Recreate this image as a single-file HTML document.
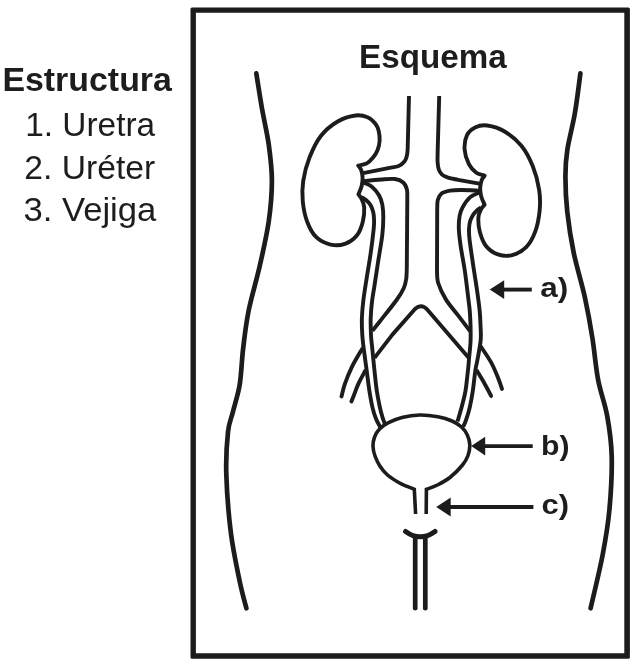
<!DOCTYPE html>
<html><head><meta charset="utf-8"><title>Esquema</title>
<style>
html,body{margin:0;padding:0;background:#fff;}
body{width:641px;height:671px;overflow:hidden;font-family:"Liberation Sans",sans-serif;}
svg{display:block;}
svg text{font-family:"Liberation Sans",sans-serif;fill:#1d1d1d;}
</style></head><body>
<svg width="641" height="671" viewBox="0 0 641 671">
<rect x="0" y="0" width="641" height="671" fill="#ffffff"/>
<path fill-rule="evenodd" fill="#1c1c1c" d="M192,7.6 H628.4 Q629.9,7.6 629.9,9.1 V657.2 Q629.9,658.7 628.4,658.7 H192 Q190.5,658.7 190.5,657.2 V9.1 Q190.5,7.6 192,7.6 Z M195.9,12.8 V653.3 H624.3 V12.8 Z"/>
<g fill="none" stroke="#1c1c1c" stroke-linejoin="round">
<path d="M256.3,73.4 C257.3,79.4 260.0,97.3 262.1,109.2 C264.2,121.1 267.2,133.0 268.8,144.9 C270.4,156.8 271.9,168.0 271.9,180.7 C271.9,193.4 270.8,206.8 268.8,221.0 C266.8,235.2 263.2,250.8 259.8,265.7 C256.4,280.6 251.5,296.7 248.7,310.4 C245.9,324.1 244.7,335.6 243.2,348.0 C241.7,360.4 241.4,374.1 239.7,384.7 C238.0,395.3 234.9,403.6 233.0,411.5 C231.1,419.4 229.1,421.6 228.0,432.0 C226.9,442.4 225.8,457.4 226.3,474.1 C226.8,490.8 228.6,514.4 230.8,532.3 C233.0,550.2 237.1,568.7 239.7,581.4 C242.3,594.1 245.3,603.8 246.4,608.3" stroke-width="4.7" stroke-linecap="round"/>
<path d="M580.4,73.4 C579.5,80.1 577.0,101.0 574.8,113.7 C572.6,126.4 569.0,139.0 567.4,149.4 C565.8,159.8 565.4,165.8 565.4,176.2 C565.4,186.6 565.9,199.3 567.3,212.0 C568.7,224.7 570.7,238.1 573.6,252.3 C576.5,266.5 581.7,282.7 584.8,297.0 C587.9,311.3 590.2,324.1 592.4,338.0 C594.6,351.9 595.7,367.2 598.2,380.2 C600.7,393.2 605.0,403.3 607.2,416.0 C609.5,428.7 611.3,440.6 611.7,456.2 C612.1,471.8 610.9,493.5 609.4,509.9 C607.9,526.3 605.8,538.2 602.7,554.6 C599.6,571.0 592.6,599.3 590.6,608.3" stroke-width="4.7" stroke-linecap="round"/>
<path d="M358.2,165.6 C359.6,165.3 363.9,164.9 366.4,163.6 C368.9,162.2 371.2,159.8 373.1,157.5 C375.0,155.2 376.5,152.8 377.6,150.0 C378.7,147.2 379.4,144.2 379.6,141.0 C379.8,137.8 379.3,133.4 378.6,130.5 C377.9,127.6 377.0,125.7 375.2,123.5 C373.4,121.3 370.9,118.5 367.6,117.2 C364.3,115.9 360.6,114.8 355.6,115.5 C350.6,116.2 343.5,118.1 337.7,121.5 C331.9,124.9 325.7,129.8 321.0,135.8 C316.3,141.8 312.6,149.8 309.6,157.3 C306.6,164.9 304.3,173.7 303.2,181.1 C302.1,188.5 302.1,194.8 302.8,201.6 C303.5,208.4 304.9,215.8 307.2,221.7 C309.4,227.6 312.4,233.4 316.3,237.2 C320.2,241.0 325.8,243.5 330.6,244.6 C335.4,245.7 340.5,245.4 344.9,243.9 C349.3,242.4 353.8,239.3 356.8,235.6 C359.8,231.9 361.6,226.4 362.8,221.7 C364.0,217.0 364.4,211.2 364.2,207.4 C364.0,203.6 362.6,201.2 361.6,199.0 C360.6,196.8 358.9,195.1 358.4,194.3 C358.9,193.0 360.9,189.0 361.6,186.2 C362.3,183.4 362.7,180.2 362.6,177.5 C362.5,174.8 361.9,172.0 361.2,170.0 C360.5,168.0 358.7,166.3 358.2,165.6Z" stroke-width="3.9" stroke-linecap="round"/>
<path d="M484.6,175.6 C483.2,175.1 478.9,174.6 476.3,172.7 C473.7,170.8 470.8,168.1 468.9,164.2 C466.9,160.3 464.9,154.2 464.6,149.4 C464.3,144.6 465.2,138.8 467.0,135.1 C468.8,131.4 472.2,128.8 475.6,127.2 C479.0,125.6 482.4,124.8 487.2,125.5 C492.0,126.2 498.9,128.1 504.6,131.5 C510.3,134.9 516.7,140.0 521.4,145.8 C526.1,151.6 529.8,158.9 532.8,166.3 C535.8,173.7 538.1,182.7 539.2,190.1 C540.3,197.5 540.3,204.1 539.6,211.0 C538.9,217.9 537.4,225.7 535.2,231.7 C533.0,237.7 530.0,243.3 526.2,247.2 C522.4,251.1 516.9,253.9 512.2,255.1 C507.5,256.3 502.3,255.9 497.9,254.4 C493.5,252.9 489.0,249.8 486.0,246.0 C483.0,242.2 481.1,236.5 479.8,231.7 C478.5,226.9 478.2,221.2 478.4,217.4 C478.6,213.6 480.2,211.1 481.2,209.0 C482.2,206.9 484.0,205.4 484.6,204.7 C484.0,203.3 481.9,199.2 481.2,196.4 C480.5,193.6 480.1,190.3 480.2,187.6 C480.3,184.9 481.0,182.2 481.7,180.2 C482.4,178.2 484.1,176.4 484.6,175.6Z" stroke-width="3.9" stroke-linecap="round"/>
<path d="M409,96 L407.9,140 C407.8,141.7 407.8,147.3 407.6,150.0 C407.4,152.7 407.3,154.1 406.8,156.0 C406.3,157.9 405.8,159.9 404.4,161.6 C403.0,163.3 401.5,164.9 398.6,166.0 C395.7,167.1 392.9,167.2 387.0,168.4 C381.1,169.6 367.1,172.3 363.1,173.1" stroke-width="3.9" stroke-linecap="butt"/>
<path d="M363.1,181.2 C366.1,180.9 375.9,179.9 381.2,179.5 C386.5,179.1 391.2,178.5 394.9,179.0 C398.6,179.5 401.2,180.7 403.2,182.4 C405.2,184.1 406.2,186.5 406.9,189.4 C407.6,192.3 407.2,198.2 407.3,200.0 L406.8,268 C406.7,269.8 406.7,275.6 406.2,279.0 C405.7,282.4 405.2,285.0 403.6,288.5 C402.0,292.0 400.5,294.6 396.6,300.0 C392.7,305.4 384.0,316.1 380.0,321.2 C376.0,326.3 373.7,329.2 372.4,330.8" stroke-width="3.9" stroke-linecap="butt"/>
<path d="M362.0,349.1 C360.3,352.1 354.7,361.2 351.8,367.1 C348.9,373.0 346.5,379.3 344.8,384.2 C343.1,389.1 342.1,394.4 341.5,396.5" stroke-width="3.9" stroke-linecap="round"/>
<path d="M365.1,371.0 C364.1,372.9 360.8,378.7 358.9,382.7 C357.0,386.7 355.2,391.9 354.0,395.0 C352.8,398.1 351.8,400.4 351.4,401.5" stroke-width="3.9" stroke-linecap="round"/>
<path d="M439.2,96 L437.7,150 C437.7,152.0 437.4,158.8 437.6,162.0 C437.8,165.2 438.1,167.4 438.8,169.5 C439.5,171.6 440.5,173.2 442.0,174.6 C443.5,175.9 445.3,176.7 448.0,177.6 C450.7,178.5 452.8,178.8 458.0,179.8 C463.2,180.8 475.8,183.0 479.3,183.7" stroke-width="3.9" stroke-linecap="butt"/>
<path d="M479.3,190.6 C476.2,190.5 465.9,190.0 461.0,190.0 C456.1,190.0 453.2,190.0 450.0,190.6 C446.8,191.2 443.6,192.0 441.6,193.6 C439.6,195.2 438.5,197.3 437.8,200.0 C437.1,202.7 437.3,208.3 437.2,210.0 L437,270 C437.2,272.2 436.7,278.1 438.2,283.0 C439.7,287.9 442.4,293.8 446.0,299.6 C449.6,305.4 456.0,312.5 460.0,317.8 C464.0,323.1 468.5,329.1 470.2,331.4" stroke-width="3.9" stroke-linecap="butt"/>
<path d="M481.0,346.8 C482.7,349.4 488.2,357.2 491.1,362.4 C494.0,367.6 496.3,373.6 498.1,378.0 C499.9,382.4 501.4,387.1 502.0,388.9" stroke-width="3.9" stroke-linecap="round"/>
<path d="M477.1,371.0 C478.4,373.2 482.6,380.1 484.9,384.2 C487.2,388.3 490.1,393.9 491.1,395.9" stroke-width="3.9" stroke-linecap="round"/>
<path d="M374.5,357.9 L392.4,334.6 L415.0,309.0 Q421.2,303.2 427.2,309.4 L469.3,358.5" stroke-width="3.9" stroke-linecap="butt"/>
<path d="M361.5,197.0 C362.2,197.5 364.5,198.7 366.0,200.0 C367.5,201.3 369.3,203.0 370.5,205.0 C371.7,207.0 372.6,209.7 373.2,212.0 C373.8,214.3 373.9,216.2 374.0,219.0 C374.1,221.8 374.3,222.9 373.7,228.7 C373.1,234.5 371.8,245.4 370.6,253.7 C369.4,262.0 367.8,270.9 366.6,278.6 C365.4,286.3 364.2,293.4 363.4,300.0 C362.6,306.6 362.1,312.2 361.9,318.0 C361.7,323.8 362.0,330.2 362.3,335.0 C362.6,339.8 362.8,341.0 363.5,346.8 C364.2,352.6 365.6,362.6 366.6,370.0 C367.6,377.4 368.4,384.6 369.4,390.9 C370.4,397.2 371.4,402.9 372.5,407.6 C373.6,412.3 374.8,415.7 376.1,419.0 C377.4,422.3 379.6,425.8 380.3,427.2" stroke-width="3.9" stroke-linecap="butt"/>
<path d="M363.1,182.5 C364.5,183.2 369.0,184.3 371.6,186.4 C374.2,188.5 377.2,192.2 379.0,195.3 C380.8,198.4 381.7,201.2 382.4,205.0 C383.1,208.8 383.3,212.8 383.3,217.8 C383.3,222.8 383.1,228.0 382.3,235.0 C381.5,242.0 379.7,251.6 378.4,259.9 C377.1,268.2 375.6,278.2 374.6,284.9 C373.6,291.6 372.9,294.5 372.2,300.0 C371.5,305.5 370.9,312.2 370.7,318.0 C370.5,323.8 370.8,330.2 371.0,335.0 C371.2,339.8 371.5,341.0 372.1,346.8 C372.7,352.6 373.6,362.6 374.4,370.0 C375.2,377.4 375.9,384.8 376.8,390.9 C377.7,397.0 378.8,402.1 379.7,406.5 C380.6,410.9 381.5,414.1 382.4,417.0 C383.2,419.9 384.4,422.5 384.8,423.6" stroke-width="3.9" stroke-linecap="butt"/>
<path d="M481.0,207.5 C480.3,208.0 478.3,209.2 477.0,210.5 C475.7,211.8 474.1,213.2 473.0,215.0 C471.9,216.8 470.9,218.7 470.2,221.0 C469.5,223.3 469.1,225.8 469.0,229.0 C468.9,232.2 468.9,234.2 469.6,240.0 C470.3,245.8 471.8,255.7 473.0,264.0 C474.2,272.3 475.9,282.3 477.0,290.0 C478.1,297.7 479.0,304.2 479.6,310.0 C480.2,315.8 480.3,320.0 480.5,325.0 C480.7,330.0 481.2,334.2 480.7,340.0 C480.2,345.8 478.3,355.0 477.4,360.0 C476.5,365.0 476.2,364.9 475.4,370.0 C474.6,375.1 473.8,384.6 472.8,390.9 C471.9,397.2 470.8,402.7 469.7,407.6 C468.6,412.5 467.1,416.9 466.0,420.1 C464.9,423.3 463.7,425.7 463.2,426.8" stroke-width="3.9" stroke-linecap="butt"/>
<path d="M479.3,192.5 C477.7,193.3 472.7,194.9 469.9,197.4 C467.1,199.9 464.3,204.3 462.6,207.4 C460.9,210.5 460.2,212.6 459.6,216.0 C459.0,219.4 458.7,223.2 458.8,228.0 C458.9,232.8 459.5,237.7 460.5,245.0 C461.5,252.3 463.7,262.8 465.0,272.0 C466.3,281.2 467.6,292.7 468.5,300.0 C469.4,307.3 469.8,308.9 470.1,315.6 C470.5,322.3 470.8,332.6 470.6,340.0 C470.4,347.4 469.3,355.0 468.9,360.0 C468.5,365.0 468.6,364.9 468.0,370.0 C467.4,375.1 466.5,384.8 465.5,390.9 C464.5,397.0 463.1,401.4 461.8,406.5 C460.5,411.6 458.2,419.0 457.5,421.5" stroke-width="3.9" stroke-linecap="butt"/>
<path d="M415.6,514 L414.3,489.3 C413.1,488.8 409.6,487.5 407.0,486.4 C404.4,485.3 401.9,484.4 398.7,482.5 C395.4,480.6 390.6,477.7 387.5,475.0 C384.4,472.3 382.1,469.4 380.0,466.2 C377.9,463.0 376.2,459.3 375.0,456.0 C373.8,452.7 373.1,449.4 373.0,446.2 C372.9,443.0 373.5,439.9 374.6,437.0 C375.7,434.1 377.2,431.4 379.5,429.0 C381.8,426.6 384.8,424.5 388.5,422.6 C392.2,420.7 396.8,418.7 402.0,417.4 C407.2,416.1 413.9,415.1 419.9,415.0 C425.9,414.9 432.6,415.8 438.0,416.8 C443.4,417.8 448.1,419.3 452.0,421.0 C455.9,422.7 458.9,424.7 461.5,427.0 C464.1,429.3 465.9,432.0 467.3,435.0 C468.7,438.0 469.7,441.5 469.8,444.9 C469.9,448.3 469.2,452.1 468.0,455.5 C466.8,458.9 465.5,461.3 462.5,465.0 C459.5,468.7 454.1,474.2 449.9,477.5 C445.7,480.8 441.3,483.0 437.4,485.0 C433.5,487.0 428.2,488.6 426.4,489.3 L426.2,514" stroke-width="3.6" stroke-linecap="butt" stroke-linejoin="miter"/>
<path d="M405.6,531.4 Q420.3,542.2 435.0,531.4" stroke-width="5.0" stroke-linecap="round"/>
<path d="M415.2,537 L415.2,608.2" stroke-width="4.7" stroke-linecap="round"/>
<path d="M425.3,537 L425.3,608.2" stroke-width="4.7" stroke-linecap="round"/>
<path d="M503.2,289.6 L531.8,289.6" stroke-width="3.9" stroke-linecap="butt"/><path d="M489.7,289.6 L504.2,280.2 L504.2,299.0 Z" fill="#1c1c1c" stroke="none"/>
<path d="M484.2,446.1 L532.7,446.1" stroke-width="3.9" stroke-linecap="butt"/><path d="M471.2,446.1 L485.2,436.7 L485.2,455.5 Z" fill="#1c1c1c" stroke="none"/>
<path d="M449.7,507.0 L533.4,507.0" stroke-width="3.9" stroke-linecap="butt"/><path d="M436.2,507.0 L450.7,497.6 L450.7,516.4 Z" fill="#1c1c1c" stroke="none"/>
</g>
<g style="filter:grayscale(1)">
<text x="359.1" y="67.7" font-size="33.5" font-weight="bold" text-anchor="start" textLength="147.5" lengthAdjust="spacingAndGlyphs">Esquema</text>
<text x="2.4" y="90.6" font-size="33.5" font-weight="bold" text-anchor="start" textLength="169.5" lengthAdjust="spacingAndGlyphs">Estructura</text>
<text x="25.2" y="136.2" font-size="33.5" font-weight="normal" text-anchor="start" textLength="130.0" lengthAdjust="spacingAndGlyphs">1. Uretra</text>
<text x="24.2" y="178.7" font-size="33.5" font-weight="normal" text-anchor="start" textLength="131.0" lengthAdjust="spacingAndGlyphs">2. Uréter</text>
<text x="23.4" y="221.3" font-size="33.5" font-weight="normal" text-anchor="start" textLength="133.0" lengthAdjust="spacingAndGlyphs">3. Vejiga</text>
<text x="540.2" y="297.0" font-size="28" font-weight="bold" text-anchor="start" textLength="28.0" lengthAdjust="spacingAndGlyphs">a)</text>
<text x="541.0" y="454.6" font-size="28" font-weight="bold" text-anchor="start" textLength="28.5" lengthAdjust="spacingAndGlyphs">b)</text>
<text x="541.6" y="513.6" font-size="28" font-weight="bold" text-anchor="start" textLength="27.5" lengthAdjust="spacingAndGlyphs">c)</text>
</g>
</svg>
</body></html>
